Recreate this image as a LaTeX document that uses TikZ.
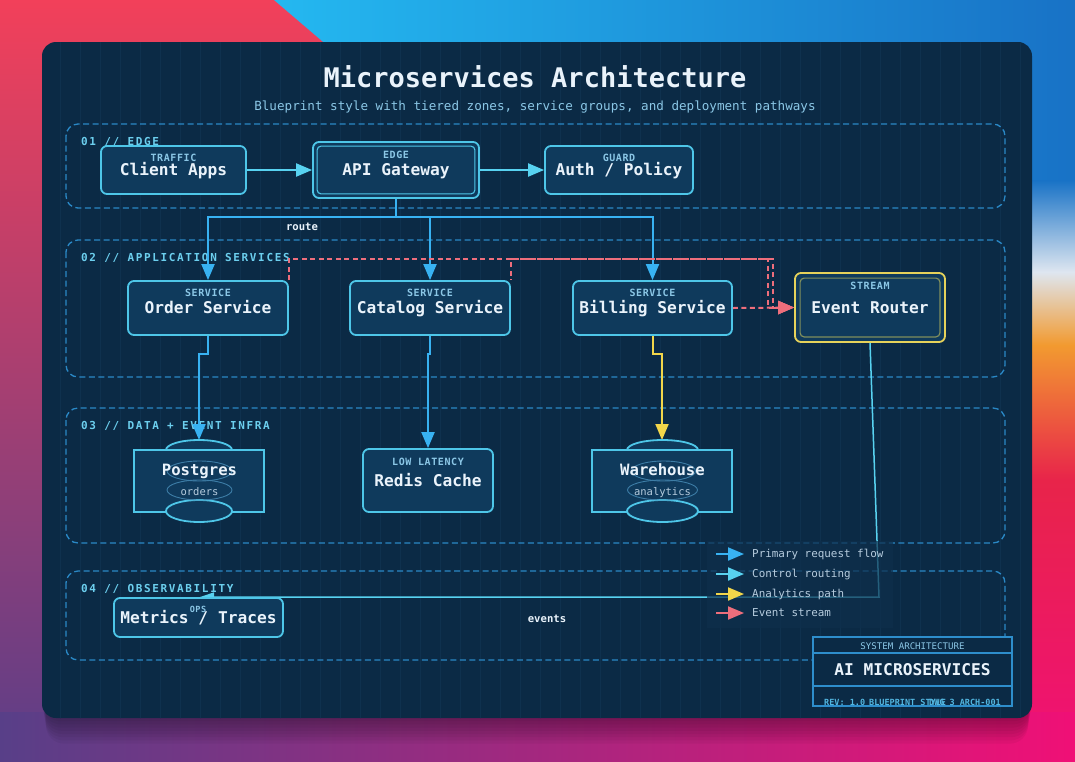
\documentclass[tikz,border=0pt]{standalone}
\usepackage{fontspec}
\setmainfont{DejaVu Sans Mono}
\newfontfamily\zonefont{DejaVu Sans Mono}[LetterSpace=15]
\newfontfamily\subfont{DejaVu Sans Mono}[LetterSpace=6]
\usetikzlibrary{arrows.meta}
\pgfdeclarelayer{bgl}
\pgfdeclarelayer{edges}
\pgfsetlayers{bgl,edges,main}
\definecolor{bgA}{HTML}{F2405A}
\definecolor{bgB}{HTML}{E02A52}
\definecolor{bgC}{HTML}{5C3E88}
\definecolor{cyA}{HTML}{24B8F0}
\definecolor{cyB}{HTML}{1872C6}
\definecolor{panelc}{HTML}{0B2A45}
\definecolor{gridc}{HTML}{0F314E}
\definecolor{zonec}{HTML}{2A88C6}
\definecolor{zlabc}{HTML}{6CCFEE}
\definecolor{nodef}{HTML}{0F3A5C}
\definecolor{nodeb}{HTML}{4EC6E8}
\definecolor{maintxt}{HTML}{EAF3FB}
\definecolor{subtxt}{HTML}{8BC7E6}
\definecolor{primc}{HTML}{38B2F2}
\definecolor{ctrlc}{HTML}{58D2F0}
\definecolor{yelc}{HTML}{F2D64A}
\definecolor{erb}{HTML}{E6D25A}
\definecolor{erin}{HTML}{7F8E5C}
\definecolor{evtc}{HTML}{EE6E7C}
\definecolor{legtxt}{HTML}{B6CCDE}
\definecolor{legbg}{HTML}{0E2F4C}
\definecolor{tbline}{HTML}{2E8ECC}
\definecolor{tbtxt}{HTML}{52B6E0}
\definecolor{dimell}{HTML}{3D7DA6}
\tikzset{
  zone/.style={draw=zonec, line width=1.3pt, dash pattern=on 6pt off 3.5pt, rounded corners=12pt},
  zlab/.style={anchor=west, inner sep=0pt, text=zlabc, font=\zonefont\bfseries\fontsize{11}{13}\selectfont, text height=8pt, text depth=0pt},
  box/.style={draw=nodeb, fill=nodef, line width=1.8pt, rounded corners=6pt, inner sep=0pt, text=maintxt, font=\bfseries\fontsize{16.2}{18}\selectfont, text height=11.8pt, text depth=0pt},
  cylrect/.style={draw=nodeb, fill=nodef, line width=1.8pt, inner sep=0pt},
  cylcap/.style={draw=nodeb, fill=nodef, line width=1.8pt},
  dimellipse/.style={draw=dimell, line width=0.9pt},
  sublbl/.style={inner sep=0pt, text=subtxt, font=\subfont\bfseries\fontsize{10}{12}\selectfont, text height=7.3pt, text depth=0pt},
  dbmain/.style={inner sep=0pt, text=maintxt, font=\bfseries\fontsize{15.6}{18}\selectfont, text height=11.4pt, text depth=0pt},
  dbsub/.style={inner sep=0pt, text=legtxt, font=\fontsize{10.5}{12}\selectfont, text height=5.8pt, text depth=0pt},
  tipL/.style={-{Triangle[length=16pt,width=13pt]}},
  tipS/.style={-{Triangle[length=14pt,width=9pt]}},
  prim/.style={draw=primc, line width=2pt, tipL},
  ctrl/.style={draw=ctrlc, line width=2pt, tipL},
  anl/.style={draw=yelc, line width=2pt, tipL},
  evt/.style={draw=evtc, line width=2pt, dash pattern=on 5pt off 3.5pt, tipL},
  thinctrl/.style={draw=ctrlc, line width=1.5pt, tipS},
  elbl/.style={inner sep=0pt, text=maintxt, font=\bfseries\fontsize{10.6}{12}\selectfont, text height=7.7pt, text depth=0pt},
  legtext/.style={anchor=west, inner sep=0pt, text=legtxt, font=\fontsize{10.9}{12}\selectfont, text height=7.9pt, text depth=0pt},
  tbl/.style={draw=tbline, line width=1.2pt},
  tbsmall/.style={inner sep=0pt, text=tbtxt, font=\bfseries\fontsize{8.5}{10}\selectfont, text height=6.2pt, text depth=0pt},
}
\begin{document}
\begin{tikzpicture}[x=1pt,y=-1pt]
\useasboundingbox (0,0) rectangle (1075,761);
\begin{pgfonlayer}{bgl}
  % backdrop
  \shade[top color=bgA, middle color=bgB, bottom color=bgC] (0,0) rectangle (1075,761);
  \shade[left color=cyA, right color=cyB] (274,0) -- (1075,0) -- (1075,250) -- (1000,250) -- (1000,70) -- (356,70) -- cycle;
  \shade[top color=cyB, bottom color={rgb,255:red,222;green,230;blue,240}] (1028,180) rectangle (1075,272);
  \shade[top color={rgb,255:red,222;green,230;blue,240}, bottom color={rgb,255:red,242;green,154;blue,48}] (1028,272) rectangle (1075,345);
  \shade[top color={rgb,255:red,242;green,154;blue,48}, bottom color={rgb,255:red,232;green,36;blue,74}] (1028,345) rectangle (1075,480);
  \shade[top color={rgb,255:red,232;green,36;blue,74}, bottom color={rgb,255:red,240;green,16;blue,118}] (1028,480) rectangle (1075,761);
  \shade[left color={rgb,255:red,88;green,63;blue,136}, middle color={rgb,255:red,148;green,40;blue,122}, right color={rgb,255:red,240;green,16;blue,118}] (0,712) rectangle (1075,761);
  % shadow
  \foreach \i in {1,...,8}
    \fill[black, opacity=0.045, rounded corners=18pt] (42+\i*0.5,42+\i*3) rectangle (1032-\i*0.5,718+\i*3.2);
  % panel
  \fill[panelc, rounded corners=14pt] (42,42) rectangle (1032,718);
  \begin{scope}
    \clip[rounded corners=14pt] (42,42) rectangle (1032,718);
    \draw[gridc, line width=0.6pt] (40,40) grid[step=20] (1040,720);
  \end{scope}
  % titles
  \node[inner sep=0pt, text=maintxt, font=\bfseries\fontsize{27}{30}\selectfont, text height=19.7pt, text depth=0pt] (title) at (535,78) {Microservices Architecture};
  \node[inner sep=0pt, text=subtxt, font=\fontsize{12.6}{14}\selectfont, text height=9.2pt, text depth=0pt] (subtitle) at (535,106) {Blueprint style with tiered zones, service groups, and deployment pathways};
  % zones
  \draw[zone] (66,124) rectangle (1005,208);
  \draw[zone] (66,240) rectangle (1005,377);
  \draw[zone] (66,408) rectangle (1005,543);
  \draw[zone] (66,571) rectangle (1005,660);
  \node[zlab] (z1) at (81,141) {01 // EDGE};
  \node[zlab] (z2) at (81,257) {02 // APPLICATION SERVICES};
  \node[zlab] (z3) at (81,425) {03 // DATA + EVENT INFRA};
  \node[zlab] (z4) at (81,588) {04 // OBSERVABILITY};
\end{pgfonlayer}

% ---- nodes ----
\node[box, minimum width=145pt, minimum height=48pt] (ca) at (173.5,170) {Client Apps};
\node[sublbl] (ca-l) at (173.5,158) {TRAFFIC};
\node[box, minimum width=166pt, minimum height=56pt] (gw) at (396,170) {API Gateway};
\draw[draw=nodeb, line width=1.1pt, rounded corners=4pt] ([shift={(5,5)}]gw.north west) rectangle ([shift={(-5,-5)}]gw.south east);
\node[sublbl] (gw-l) at (396,155) {EDGE};
\node[box, minimum width=148pt, minimum height=48pt] (au) at (619,170) {Auth / Policy};
\node[sublbl] (au-l) at (619,158) {GUARD};

\node[box, minimum width=160pt, minimum height=54pt] (os) at (208,308) {Order Service};
\node[sublbl] (os-l) at (208,293) {SERVICE};
\node[box, minimum width=160pt, minimum height=54pt] (cs) at (430,308) {Catalog Service};
\node[sublbl] (cs-l) at (430,293) {SERVICE};
\node[box, minimum width=159pt, minimum height=54pt] (bs) at (652.5,308) {Billing Service};
\node[sublbl] (bs-l) at (652.5,293) {SERVICE};
\node[box, draw=erb, minimum width=150pt, minimum height=69pt] (er) at (870,307.5) {Event Router};
\draw[draw=erin, line width=1.2pt, rounded corners=4pt] ([shift={(6,6)}]er.north west) rectangle ([shift={(-6,-6)}]er.south east);
\node[sublbl] (er-l) at (870,286) {STREAM};

% Postgres cylinder
\draw[cylcap] (199,450) ellipse [x radius=33pt, y radius=10pt];
\node[cylrect, minimum width=130pt, minimum height=62pt] (pg) at (199,481) {};
\draw[cylcap] (199,511) ellipse [x radius=33pt, y radius=11pt];
\draw[dimellipse] (199.5,471) ellipse [x radius=32.5pt, y radius=10pt];
\draw[dimellipse] (199.5,490) ellipse [x radius=32.5pt, y radius=10pt];
\node[dbmain] (pg-t) at (199.5,470) {Postgres};
\node[dbsub] (pg-s) at (199.5,493) {orders};
\coordinate (pgtop) at (199,440);

\node[box, minimum width=130pt, minimum height=63pt] (rc) at (428,480.5) {Redis Cache};
\node[sublbl] (rc-l) at (428,462) {LOW LATENCY};

% Warehouse cylinder
\draw[cylcap] (662.5,450) ellipse [x radius=35.5pt, y radius=10pt];
\node[cylrect, minimum width=140pt, minimum height=62pt] (wh) at (662,481) {};
\draw[cylcap] (662.5,511) ellipse [x radius=35.5pt, y radius=11pt];
\draw[dimellipse] (663.5,471) ellipse [x radius=32pt, y radius=10pt];
\draw[dimellipse] (662.5,490) ellipse [x radius=35pt, y radius=10pt];
\node[dbmain] (wh-t) at (662.5,470) {Warehouse};
\node[dbsub] (wh-s) at (662.5,493) {analytics};
\coordinate (whtop) at (662,440);

\node[box, minimum width=169pt, minimum height=39pt] (mt) at (198.5,617.5) {Metrics / Traces};
\node[sublbl, font=\subfont\bfseries\fontsize{8.5}{10}\selectfont, text height=6.2pt] (mt-l) at (198,609.5) {OPS};

% ---- connectors ----
\begin{pgfonlayer}{edges}
  \draw[ctrl] (ca) -- (gw);
  \draw[ctrl] (gw) -- (au);
  \draw[prim] (gw.south) -- ++(0,18) -| (os.north);
  \draw[prim] (gw.south) -- ++(0,18) -| (cs.north);
  \draw[prim] (gw.south) -- ++(0,18) -| (bs.north);
  \draw[prim] (os.south) -- ++(0,18) -| (pgtop);
  \draw[prim] (cs.south) -- ++(0,18) -| (rc.north);
  \draw[anl] (bs.south) -- ++(0,18) -| (whtop);
  \draw[evt] (os.north east) |- (773,259) |- (er.west);
  \draw[evt, dash phase=4pt] (cs.north east) |- (768,259) |- (er.west);
  \draw[evt] (bs.east) -- (er.west);
  \coordinate (evbend) at (879,597);
  \coordinate (evend) at (200,597);
  \draw[thinctrl] (er.south) -- (evbend) -- (evend);
  \node[elbl] (route) at (302,227) {route};
  \node[elbl] (events) at (547,619) {events};
\end{pgfonlayer}

% ---- legend ----
\fill[legbg, opacity=0.7] (707,541) rectangle (893,628);
\draw[primc, line width=2pt, tipL] (716,554) -- (744,554);
\node[legtext] (lg1) at (752,554) {Primary request flow};
\draw[ctrlc, line width=2pt, tipL] (716,574) -- (744,574);
\node[legtext] (lg2) at (752,574) {Control routing};
\draw[yelc, line width=2pt, tipL] (716,594) -- (744,594);
\node[legtext] (lg3) at (752,594) {Analytics path};
\draw[evtc, line width=2pt, tipL] (716,613) -- (744,613);
\node[legtext] (lg4) at (752,613) {Event stream};

% ---- title block ----
\draw[tbl, fill=panelc] (813,637) rectangle (1012,706);
\draw[tbl] (813,653) -- (1012,653);
\draw[tbl] (813,686) -- (1012,686);
\node[inner sep=0pt, text=subtxt, font=\fontsize{9.1}{11}\selectfont, text height=6.6pt, text depth=0pt] (tb1) at (912.5,646) {SYSTEM ARCHITECTURE};
\node[inner sep=0pt, text=maintxt, font=\bfseries\fontsize{16.2}{18}\selectfont, text height=11.8pt, text depth=0pt] (tb2) at (912.5,669.5) {AI MICROSERVICES};
\node[tbsmall, anchor=west] (tb3) at (824,702) {REV: 1.0};
\node[tbsmall, anchor=west] (tb4) at (869,702) {BLUEPRINT STYLE};
\node[tbsmall, anchor=east] (tb5) at (1001,702) {DWG 3 ARCH-001};
\end{tikzpicture}
\end{document}
